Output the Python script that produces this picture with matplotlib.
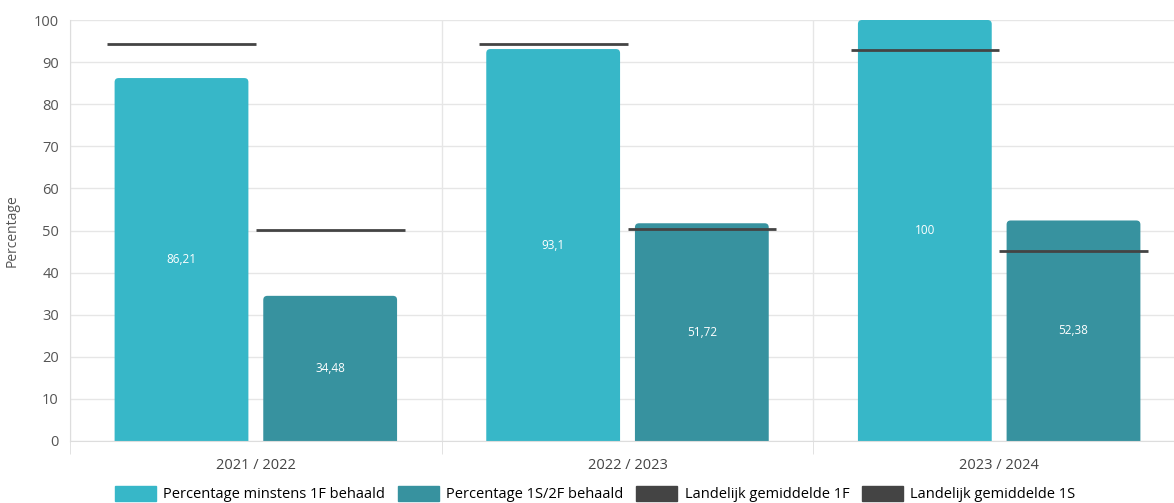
import numpy as np
import matplotlib
matplotlib.use('Agg')
import matplotlib.pyplot as plt
from matplotlib.patches import FancyBboxPatch, Patch

plt.rcParams['font.family'] = ['Open Sans', 'DejaVu Sans']

years = ['2021 / 2022', '2022 / 2023', '2023 / 2024']
pct_1f = [86.21, 93.1, 100]
pct_1s = [34.48, 51.72, 52.38]
landelijk_1f = [94.3, 94.3, 92.9]
landelijk_1s = [50.2, 50.3, 45.1]

labels = ['Percentage minstens 1F behaald', 'Percentage 1S/2F behaald',
          'Landelijk gemiddelde 1F', 'Landelijk gemiddelde 1S']
c_1f = '#37b7c8'
c_1s = '#37929f'
c_line = '#444444'

fig = plt.figure(figsize=(11.74, 5.03), dpi=100)
ax = fig.add_axes([70 / 1174, 62 / 503, 1115 / 1174, 421 / 503])

x = np.arange(len(years))
off = 0.2
bw = 0.36
lw_ = 0.4

bars1 = ax.bar(x - off, pct_1f, bw, color=c_1f)
bars2 = ax.bar(x + off, pct_1s, bw, color=c_1s)

# round the top corners a little (bottom is pushed under the axis and clipped)
for bars, col in [(bars1, c_1f), (bars2, c_1s)]:
    for b in bars:
        bx, by, w, h = b.get_x(), b.get_y(), b.get_width(), b.get_height()
        b.set_visible(False)
        p = FancyBboxPatch((bx, by - 3), w, h + 3,
                           boxstyle='round,pad=0,rounding_size=0.011',
                           mutation_aspect=88, facecolor=col, edgecolor='none', zorder=2)
        ax.add_patch(p)

for i in range(len(years)):
    ax.hlines(landelijk_1f[i], x[i] - off - lw_ / 2, x[i] - off + lw_ / 2, color=c_line, lw=2, zorder=4)
    ax.hlines(landelijk_1s[i], x[i] + off - lw_ / 2, x[i] + off + lw_ / 2, color=c_line, lw=2, zorder=4)

for vals, xs in [(pct_1f, x - off), (pct_1s, x + off)]:
    for xi, v in zip(xs, vals):
        ax.text(xi, v / 2, ('%g' % v).replace('.', ','), ha='center', va='center',
                color='white', fontsize=8.5, zorder=5)

ax.set_ylim(0, 100)
ax.set_xlim(-0.5, 2.5)
ax.set_yticks(range(0, 101, 10))
ax.set_xticks(x)
ax.set_xticklabels(years)
ax.set_xticks([-0.5, 0.5, 1.5, 2.5], minor=True)
ax.tick_params(axis='x', which='major', length=0, pad=12, labelsize=10.5, colors='#444444')
ax.tick_params(axis='x', which='minor', length=9, color='#dddddd')
ax.tick_params(axis='y', length=0, labelsize=10.5, colors='#555555', pad=8)
ax.set_ylabel('Percentage', fontsize=10, color='#555555', labelpad=10)

ax.grid(axis='y', color='#e6e6e6', lw=1, zorder=0)
ax.grid(axis='x', which='minor', color='#e6e6e6', lw=1, zorder=0)
ax.set_axisbelow(True)
for s in ['top', 'right']:
    ax.spines[s].set_visible(False)
ax.spines['left'].set_color('#dddddd')
ax.spines['bottom'].set_color('#dddddd')

handles = [Patch(color=c_1f), Patch(color=c_1s), Patch(color=c_line), Patch(color=c_line)]
fig.legend(handles, labels, loc='center', bbox_to_anchor=(0.507, 0.018), ncol=4,
           frameon=False, fontsize=10.5, handlelength=2.8, handleheight=1.2,
           columnspacing=0.9, handletextpad=0.5)

fig.savefig('out.png', dpi=100)
